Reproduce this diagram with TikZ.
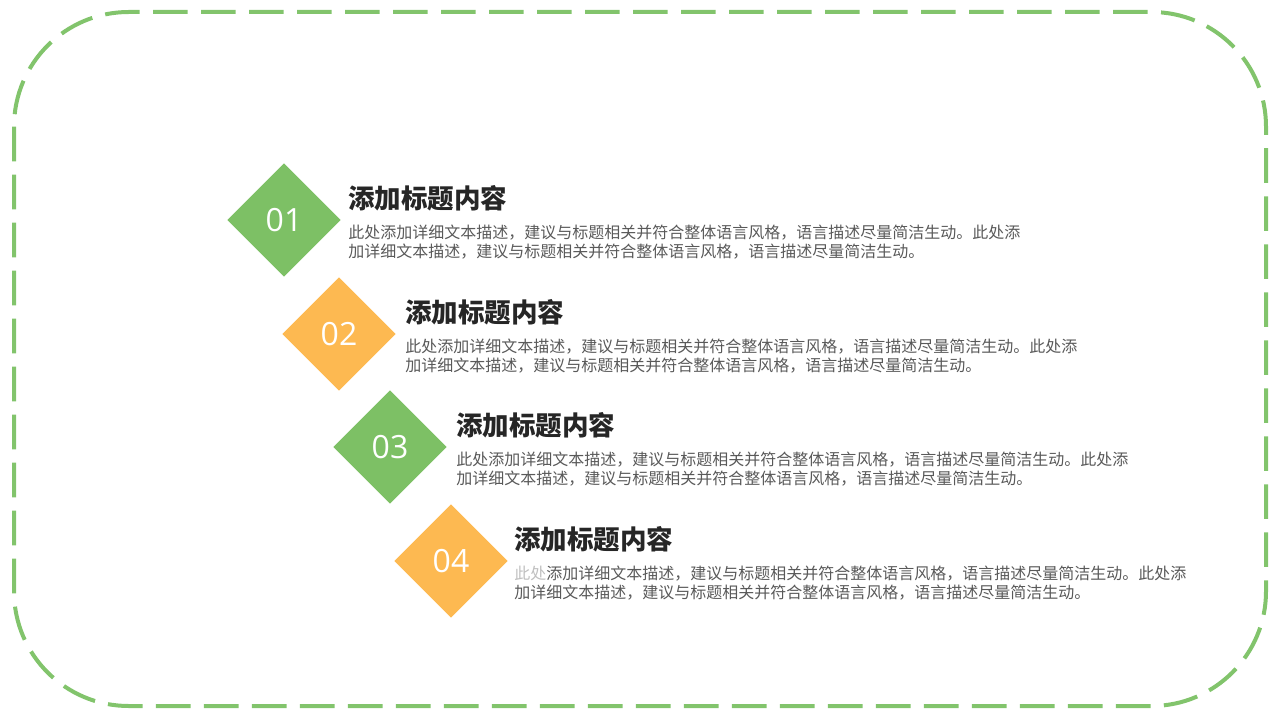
\documentclass[tikz,border=0pt]{standalone}
\usepackage{fontspec}
\setmainfont{Noto Sans CJK SC}
\newfontfamily\numfont{Open Sans}
\usetikzlibrary{shapes.geometric}
\definecolor{leafgreen}{HTML}{7DC065}
\definecolor{sunorange}{HTML}{FDB951}
\definecolor{framegreen}{HTML}{82C46C}
\definecolor{titlegray}{HTML}{262626}
\definecolor{bodygray}{HTML}{595959}
\tikzset{
	badge/.style={diamond, aspect=1, inner sep=0, minimum width=85pt, minimum height=85pt, text=white, font=\numfont\fontsize{24}{24}\selectfont},
	headline/.style={anchor=west, inner sep=0, text=titlegray, font=\bfseries\fontsize{19.9}{22}\selectfont},
	blurb/.style={anchor=north west, inner sep=0, align=left, text=bodygray, font=\fontsize{12}{14.25}\selectfont}
}
\begin{document}
\begin{tikzpicture}[x=0.75pt, y=-0.75pt]
		%%%%% START %%%%%
		\useasboundingbox (0, 0) rectangle (1280, 720);
		
		\draw[line width=3pt, color=framegreen, rounded corners=86pt, dash pattern=on 26pt off 10pt] (14, 12) rectangle (1266, 706);
		
		\node[badge, fill=leafgreen] (b1) at (284, 220) {01};
		\node[headline] (h1) at (348, 198) {添加标题内容};
		\node[blurb] (t1) at (348, 225) {此处添加详细文本描述，建议与标题相关并符合整体语言风格，语言描述尽量简洁生动。此处添\\加详细文本描述，建议与标题相关并符合整体语言风格，语言描述尽量简洁生动。};
		
		\node[badge, fill=sunorange] (b2) at (339, 334) {02};
		\node[headline] (h2) at (405, 312) {添加标题内容};
		\node[blurb] (t2) at (405, 339) {此处添加详细文本描述，建议与标题相关并符合整体语言风格，语言描述尽量简洁生动。此处添\\加详细文本描述，建议与标题相关并符合整体语言风格，语言描述尽量简洁生动。};
		
		\node[badge, fill=leafgreen] (b3) at (390, 447) {03};
		\node[headline] (h3) at (456, 425) {添加标题内容};
		\node[blurb] (t3) at (456, 452) {此处添加详细文本描述，建议与标题相关并符合整体语言风格，语言描述尽量简洁生动。此处添\\加详细文本描述，建议与标题相关并符合整体语言风格，语言描述尽量简洁生动。};
		
		\node[badge, fill=sunorange] (b4) at (451, 561) {04};
		\node[headline] (h4) at (514, 539) {添加标题内容};
		\node[blurb] (t4) at (514, 566) {{\color{black!25}此处}添加详细文本描述，建议与标题相关并符合整体语言风格，语言描述尽量简洁生动。此处添\\加详细文本描述，建议与标题相关并符合整体语言风格，语言描述尽量简洁生动。};
		
		%%%%% END %%%%%
	\end{tikzpicture}
\end{document}
